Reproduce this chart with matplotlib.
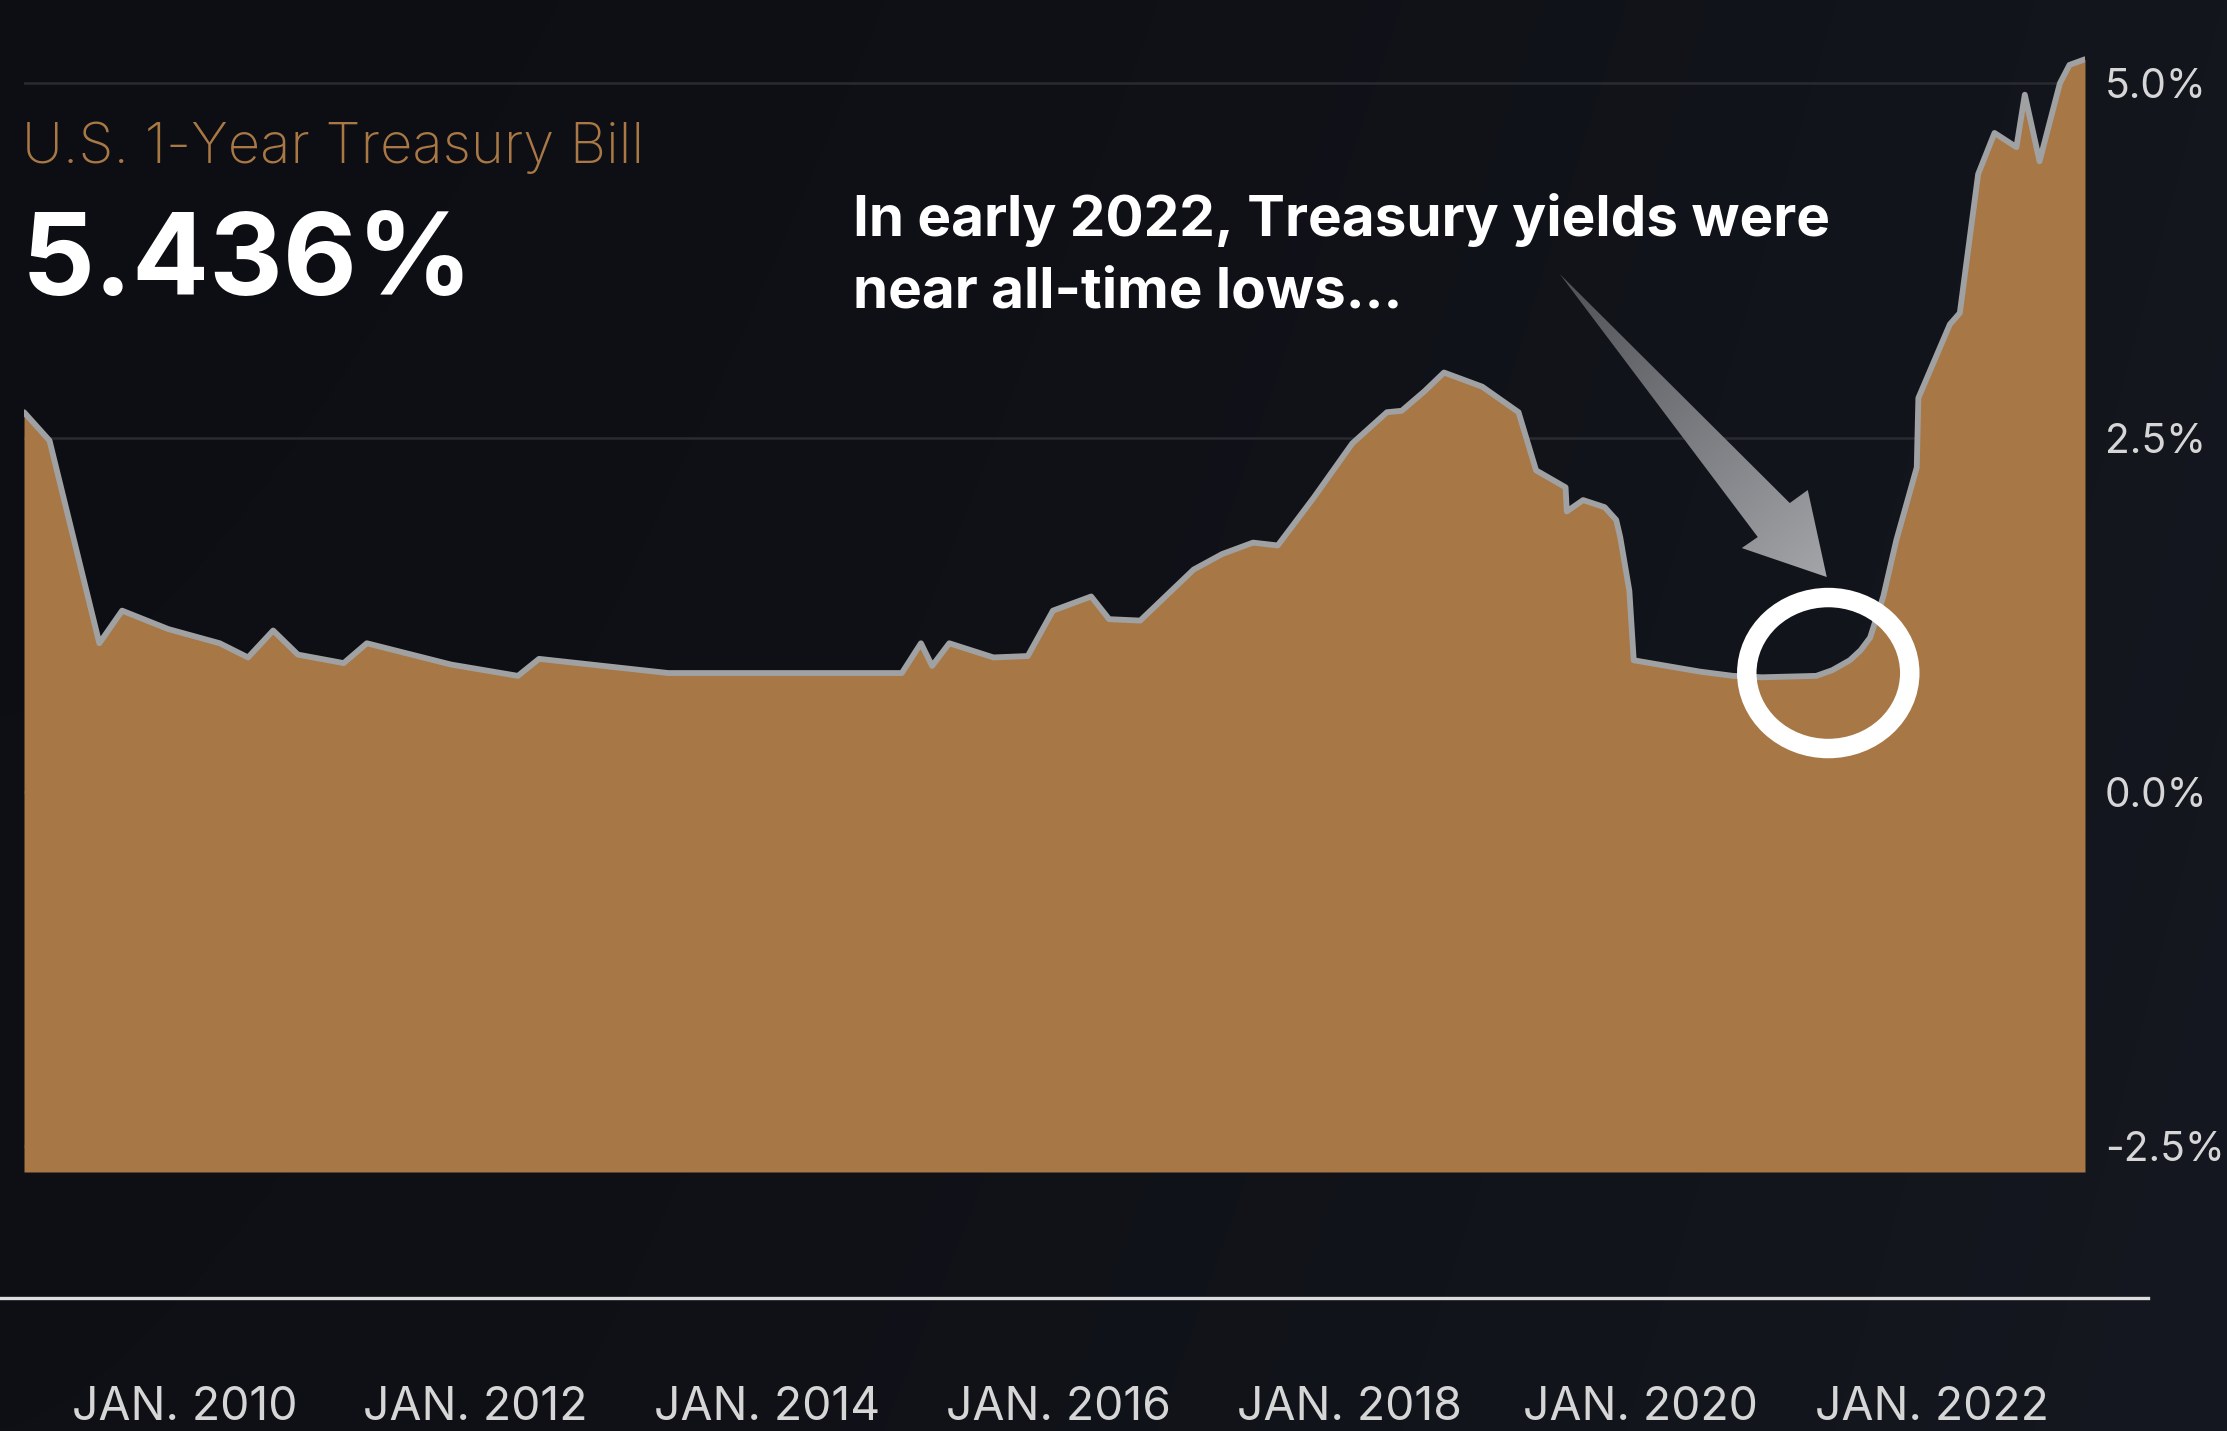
import numpy as np
import pandas as pd
import matplotlib
matplotlib.use("Agg")
import matplotlib.pyplot as plt
import matplotlib.dates as mdates
from matplotlib.patches import Ellipse, Polygon
from matplotlib.transforms import ScaledTranslation
from matplotlib.lines import Line2D

# ---------------- data ----------------
dates = ["2008-11-24", "2009-01-27", "2009-06-01", "2009-07-28", "2009-11-21",
         "2010-03-30", "2010-06-09", "2010-08-11", "2010-10-12", "2011-02-04",
         "2011-04-03", "2011-10-31", "2012-04-16", "2012-06-08", "2013-04-28",
         "2014-12-05", "2015-01-22", "2015-02-19", "2015-04-03", "2015-07-23",
         "2015-10-17", "2015-12-19", "2016-03-24", "2016-05-08", "2016-07-25",
         "2016-12-06", "2017-02-16", "2017-05-04", "2017-07-05", "2017-10-04",
         "2018-01-08", "2018-04-05", "2018-05-12", "2018-07-09", "2018-08-26",
         "2018-11-30", "2019-03-01", "2019-04-14", "2019-06-27", "2019-06-30",
         "2019-08-10", "2019-10-03", "2019-11-01", "2019-11-11", "2019-12-04",
         "2019-12-15", "2020-05-29", "2020-08-20", "2020-11-01", "2021-03-17",
         "2021-04-26", "2021-06-09", "2021-07-06", "2021-07-30", "2021-09-01",
         "2021-10-04", "2021-11-24", "2021-11-28", "2022-02-15", "2022-03-12",
         "2022-04-27", "2022-06-07", "2022-08-01", "2022-08-22", "2022-09-28",
         "2022-11-18", "2022-12-12", "2023-01-20"]
yields = [2.68, 2.48, 1.05, 1.28, 1.15,
          1.05, 0.95, 1.14, 0.97, 0.91,
          1.05, 0.90, 0.82, 0.94, 0.84,
          0.84, 1.05, 0.89, 1.05, 0.95,
          0.96, 1.28, 1.38, 1.22, 1.21,
          1.57, 1.68, 1.76, 1.74, 2.08,
          2.46, 2.68, 2.69, 2.83, 2.96,
          2.86, 2.68, 2.27, 2.15, 1.98,
          2.06, 2.01, 1.92, 1.80, 1.42,
          0.93, 0.85, 0.82, 0.81, 0.82,
          0.86, 0.93, 1.00, 1.09, 1.38,
          1.78, 2.29, 2.78, 3.30, 3.38,
          4.36, 4.65, 4.55, 4.92, 4.45,
          5.00, 5.13, 5.17]

x_tick_dates = ["2010-01-01", "2012-01-01", "2014-01-01", "2016-01-01",
                "2018-01-01", "2020-01-01", "2022-01-01"]
x_tick_labels = ["JAN. 2010", "JAN. 2012", "JAN. 2014", "JAN. 2016",
                 "JAN. 2018", "JAN. 2020", "JAN. 2022"]
y_tick_values = [5.0, 2.5, 0.0, -2.5]
y_tick_labels = ["5.0%", "2.5%", "0.0%", "-2.5%"]

series_name = "U.S. 1-Year Treasury Bill"
latest_value_label = "5.436%"
note_lines = ["In early 2022, Treasury yields were", "near all-time lows..."]
highlight_date = "2021-04-16"
highlight_value = 0.84

# ---------------- style ----------------
W, H, DPI = 2227, 1431, 100
FILL = "#a77745"
LINE = "#a0a1a3"
GRID = "#2a2b31"
TICK = "#d6d6d6"
COPPER = "#a97845"
Y_MIN, Y_MAX = -2.68, 5.45

plt.rcParams['font.family'] = ['Inter', 'Liberation Sans', 'DejaVu Sans']

fig = plt.figure(figsize=(W / DPI, H / DPI), dpi=DPI)
fig.patch.set_facecolor('#0e0f14')

# background gradient
bg = fig.add_axes([0, 0, 1, 1], zorder=0)
bg.axis('off')
gx, gy = np.meshgrid(np.linspace(0, 1, 300), np.linspace(0, 1, 200))
c0 = np.array([13, 14, 19]) / 255.0
c1 = np.array([21, 24, 32]) / 255.0
t = np.clip(0.8 * gx ** 1.5 + 0.2 * gy, 0, 1)
bg.imshow(c0 + (c1 - c0) * t[..., None], extent=[0, 1, 0, 1], origin='upper',
          aspect='auto', interpolation='bilinear')
bg.set_xlim(0, 1)
bg.set_ylim(0, 1)

# main axes
ax_left, ax_right, ax_bottom = 24, 2085, 1172
ax_h = (Y_MAX - Y_MIN) * 141.75
ax = fig.add_axes([ax_left / W, 1 - ax_bottom / H, (ax_right - ax_left) / W, ax_h / H], zorder=2)
ax.set_facecolor('none')

x = pd.to_datetime(dates)
y = np.array(yields)
ax.set_ylim(Y_MIN, Y_MAX)
ax.set_xlim(x[0], x[-1])
ax.fill_between(x, y, Y_MIN, color=FILL, lw=0, zorder=2)
ax.plot(x, y, color=LINE, lw=4.2, solid_joinstyle='round', solid_capstyle='round', zorder=3)

for s in ax.spines.values():
    s.set_visible(False)

ax.set_yticks(y_tick_values)
ax.set_yticklabels(y_tick_labels)
ax.yaxis.tick_right()
ax.yaxis.grid(True, color=GRID, lw=1.8)
ax.xaxis.grid(False)
ax.set_axisbelow(True)
ax.tick_params(axis='y', length=0, pad=14.4, labelsize=33, labelcolor=TICK)

ax.set_xticks(pd.to_datetime(x_tick_dates))
ax.set_xticklabels(x_tick_labels)
ax.tick_params(axis='x', length=0, pad=154, labelsize=34, labelcolor=TICK)

# separator line
ysep = 1 - 1298 / H
fig.add_artist(Line2D([0, 2148 / W], [ysep, ysep], color='#dcdcdc', lw=2.4,
                      transform=fig.transFigure, zorder=3))

# header texts
t_name = fig.text(22 / W, 1 - 163 / H, series_name, color=COPPER, fontsize=38,
                  fontweight='light', va='baseline', ha='left', zorder=5)
t_val = fig.text(22 / W, 1 - 295 / H, latest_value_label, color='white', fontsize=90,
                 fontweight='bold', va='baseline', ha='left', zorder=5)
t_n1 = fig.text(853 / W, 1 - 236 / H, note_lines[0], color='white', fontsize=40,
                fontweight='bold', va='baseline', ha='left', zorder=5)
t_n2 = fig.text(853 / W, 1 - 307 / H, note_lines[1], color='white', fontsize=40,
                fontweight='bold', va='baseline', ha='left', zorder=5)

# highlight ring anchored on the data point
anchor = ScaledTranslation(mdates.date2num(pd.Timestamp(highlight_date)), highlight_value,
                           ax.transData)
ring = Ellipse((0, 0), 1.63, 1.51, transform=fig.dpi_scale_trans + anchor,
               fill=False, ec='white', lw=14, zorder=6)
ax.add_patch(ring)

fig.canvas.draw()
r = fig.canvas.get_renderer()


def fit_width(txt, target):
    w = txt.get_window_extent(r).width
    txt.set_fontsize(txt.get_fontsize() * target / w)


fit_width(t_name, 622)
fit_width(t_val, 452)
fit_width(t_n1, 978)
t_n2.set_fontsize(t_n1.get_fontsize())

xl = ax.get_xticklabels()[0]
ax.tick_params(axis='x', labelsize=34 * 225 / xl.get_window_extent(r).width)
yl = ax.get_yticklabels()[0]
ax.tick_params(axis='y', labelsize=33 * 102 / yl.get_window_extent(r).width)

# tapered arrow with gradient (offsets in inches from the highlight point)
arrow_verts = [(-2.685, 3.99), (-0.385, 1.70), (-0.205, 1.83), (-0.015, 0.96),
               (-0.865, 1.25), (-0.705, 1.36)]
fig.canvas.draw()
pts = (fig.dpi_scale_trans + anchor).transform(arrow_verts)
ov = fig.add_axes([0, 0, 1, 1], zorder=4)
ov.axis('off')
ov.set_xlim(0, W)
ov.set_ylim(0, H)
x0, y0 = pts.min(0)
x1, y1 = pts.max(0)
GX, GY = np.meshgrid(np.linspace(x0, x1, 200), np.linspace(y1, y0, 200))
tail, tip = pts[0], pts[3]
d = tip - tail
tt = np.clip(((GX - tail[0]) * d[0] + (GY - tail[1]) * d[1]) / (d @ d), 0, 1)
cA = np.array([0x50, 0x51, 0x56]) / 255.0
cB = np.array([0xa4, 0xa5, 0xa9]) / 255.0
im = ov.imshow(cA + (cB - cA) * tt[..., None], extent=[x0, x1, y0, y1], origin='upper',
               aspect='auto', interpolation='bilinear')
clip_poly = Polygon(pts, closed=True, transform=ov.transData)
im.set_clip_path(clip_poly)

fig.savefig('out.png', dpi=DPI, facecolor=fig.get_facecolor())
